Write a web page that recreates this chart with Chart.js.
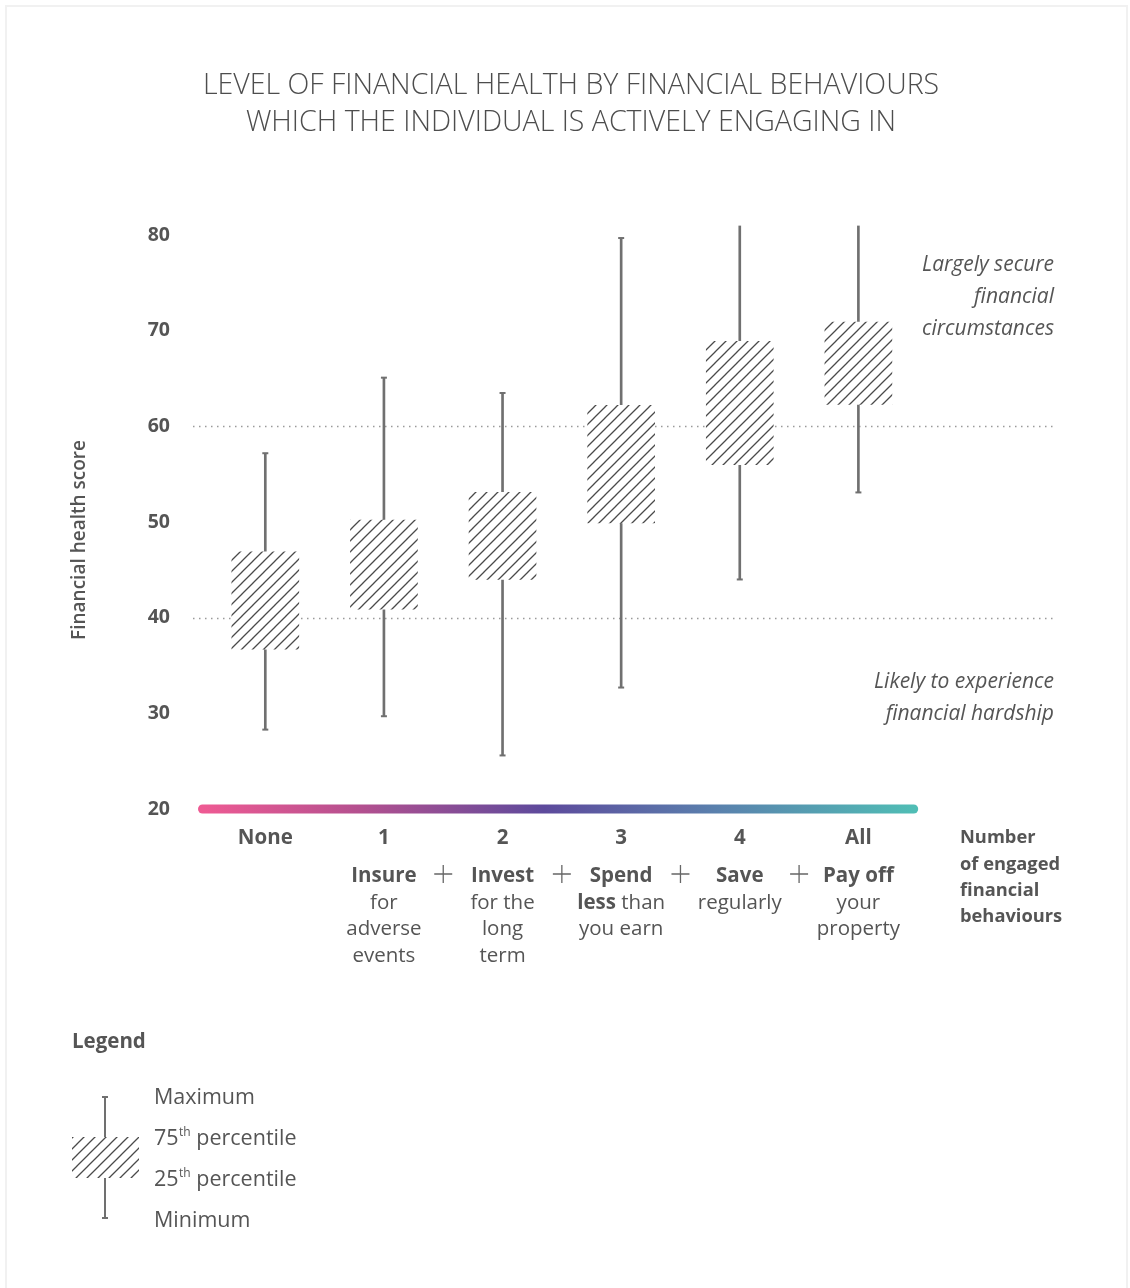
<!DOCTYPE html>
<html><head><meta charset="utf-8">
<script src="https://cdn.jsdelivr.net/npm/chart.js@4.4.1/dist/chart.umd.min.js"></script>
<style>
html,body{margin:0;padding:0;background:#fff;}
#wrap{position:relative;width:1130px;height:1288px;overflow:hidden;}
#card{position:absolute;left:5px;top:5px;width:1123px;height:1300px;border:2px solid #f1f1f1;box-sizing:border-box;}
canvas{position:absolute;left:0;top:0;}
</style></head><body>
<div id="wrap"><div id="card"></div><canvas id="c" width="1130" height="1288"></canvas></div>
<script>
// ---- data ----
const categories = ['None', '1', '2', '3', '4', 'All'];
const minimum = [28.3, 29.7, 25.6, 32.7, 44.0, 53.1];
const q1      = [36.7, 40.9, 44.0, 49.9, 56.0, 62.3];
const q3      = [46.9, 50.2, 53.1, 62.2, 68.9, 70.9];
const maximum = [57.2, 65.1, 63.5, 79.7, 81.0, 81.0];
const yTicks = [20, 30, 40, 50, 60, 70, 80];
const thresholds = [40, 60];
const titleLines = ['LEVEL OF FINANCIAL HEALTH BY FINANCIAL BEHAVIOURS', 'WHICH THE INDIVIDUAL IS ACTIVELY ENGAGING IN'];
const yTitle = 'Financial health score';
// behaviour labels: lines of [text, bold]
const behaviours = [
  null,
  [[['Insure', 1]], [['for', 0]], [['adverse', 0]], [['events', 0]]],
  [[['Invest', 1]], [['for the', 0]], [['long', 0]], [['term', 0]]],
  [[['Spend', 1]], [['less', 1], [' than', 0]], [['you earn', 0]]],
  [[['Save', 1]], [['regularly', 0]]],
  [[['Pay off', 1]], [['your', 0]], [['property', 0]]]
];
const xAxisNote = ['Number', 'of engaged', 'financial', 'behaviours'];
const upperNote = ['Largely secure', 'financial', 'circumstances'];
const lowerNote = ['Likely to experience', 'financial hardship'];
const legendTitle = 'Legend';
const legendItems = [['Maximum', ''], ['75', 'th', ' percentile'], ['25', 'th', ' percentile'], ['Minimum', '']];

const FONT = '"Open Sans", "Noto Sans", sans-serif';
const TXT = '#555555';

const canvas = document.getElementById('c');
const ctx0 = canvas.getContext('2d');
function makeHatch() {
  const s = 11;
  const t = document.createElement('canvas');
  t.width = s; t.height = s;
  const g = t.getContext('2d');
  g.fillStyle = '#ffffff'; g.fillRect(0, 0, s, s);
  g.strokeStyle = '#4a4a4a'; g.lineWidth = 1.3;
  g.beginPath();
  g.moveTo(-2, s + 2); g.lineTo(s + 2, -2);
  g.moveTo(-2, 2); g.lineTo(2, -2);
  g.moveTo(s - 2, s + 2); g.lineTo(s + 2, s - 2);
  g.stroke();
  return ctx0.createPattern(t, 'repeat');
}
const hatch = makeHatch();

function drawCap(ctx, x, y, w) {
  ctx.beginPath(); ctx.moveTo(x - w, y); ctx.lineTo(x + w, y); ctx.stroke();
}

const extras = {
  id: 'extras',
  beforeDatasetsDraw(chart) {
    const {ctx, chartArea, scales} = chart;
    const y = scales.y;
    ctx.save();
    ctx.strokeStyle = '#9a9a9a';
    ctx.lineWidth = 1.3;
    ctx.setLineDash([1.5, 4.5]);
    thresholds.forEach(v => {
      const py = Math.round(y.getPixelForValue(v)) + 0.5;
      ctx.beginPath(); ctx.moveTo(chartArea.left - 13, py); ctx.lineTo(1056, py); ctx.stroke();
    });
    ctx.restore();
  },
  afterDatasetsDraw(chart) {
    const {ctx, chartArea, scales} = chart;
    const x = scales.x, y = scales.y;
    ctx.save();
    // whisker caps
    ctx.strokeStyle = '#707070'; ctx.lineWidth = 2;
    categories.forEach((c, i) => {
      const px = x.getPixelForValue(i);
      if (maximum[i] < y.max) drawCap(ctx, px, y.getPixelForValue(maximum[i]), 3);
      if (minimum[i] > y.min) drawCap(ctx, px, y.getPixelForValue(minimum[i]), 3);
    });
    // gradient baseline
    const by = y.getPixelForValue(y.min);
    const x0 = chartArea.left - 3.5, x1 = chartArea.right - 4;
    const grad = ctx.createLinearGradient(x0, 0, x1, 0);
    grad.addColorStop(0, '#ee5a93');
    grad.addColorStop(0.22, '#b4508f');
    grad.addColorStop(0.48, '#5d4a9c');
    grad.addColorStop(0.72, '#5a80ad');
    grad.addColorStop(1, '#50bdb5');
    ctx.strokeStyle = grad; ctx.lineWidth = 9; ctx.lineCap = 'round';
    ctx.beginPath(); ctx.moveTo(x0, by); ctx.lineTo(x1, by); ctx.stroke();
    ctx.restore();
  },
  afterDraw(chart) {
    const {ctx, chartArea, scales} = chart;
    const x = scales.x, y = scales.y;
    ctx.save();
    ctx.fillStyle = TXT;
    ctx.textBaseline = 'middle';
    // y title
    ctx.save();
    ctx.translate(80, 540);
    ctx.rotate(-Math.PI / 2);
    ctx.textAlign = 'center';
    ctx.font = '600 19px ' + FONT;
    ctx.fillText(yTitle, 0, 0);
    ctx.restore();
    // behaviour labels
    const baseY = 876, lh = 26.7;
    const bf = '20.5px ';
    behaviours.forEach((lines, i) => {
      if (!lines) return;
      const px = x.getPixelForValue(i);
      lines.forEach((segs, k) => {
        const widths = segs.map(s => { ctx.font = (s[1] ? '700 ' : '400 ') + bf + FONT; return ctx.measureText(s[0]).width; });
        const total = widths.reduce((a, b) => a + b, 0);
        let cx = px - total / 2;
        ctx.textAlign = 'left';
        segs.forEach((s, j) => {
          ctx.font = (s[1] ? '700 ' : '400 ') + bf + FONT;
          ctx.fillText(s[0], cx, baseY + k * lh);
          cx += widths[j];
        });
      });
    });
    // plus signs
    ctx.strokeStyle = '#666'; ctx.lineWidth = 1.3;
    for (let i = 1; i < categories.length - 1; i++) {
      const mx = (x.getPixelForValue(i) + x.getPixelForValue(i + 1)) / 2;
      ctx.beginPath();
      ctx.moveTo(mx - 9, 874); ctx.lineTo(mx + 9, 874);
      ctx.moveTo(mx, 865); ctx.lineTo(mx, 883);
      ctx.stroke();
    }
    // x axis note
    ctx.textAlign = 'left';
    ctx.font = '700 18.3px ' + FONT;
    xAxisNote.forEach((t, k) => ctx.fillText(t, 960, 838 + k * 26.3));
    // zone notes
    ctx.textAlign = 'right';
    ctx.font = 'italic 400 21px ' + FONT;
    upperNote.forEach((t, k) => ctx.fillText(t, 1054, y.getPixelForValue(76.9) + k * 32));
    lowerNote.forEach((t, k) => ctx.fillText(t, 1054, y.getPixelForValue(33.3) + k * 32));
    // legend
    ctx.textAlign = 'left';
    ctx.font = '700 20.5px ' + FONT;
    ctx.fillText(legendTitle, 72, 1042);
    const lx = 105;
    ctx.strokeStyle = '#707070'; ctx.lineWidth = 2;
    ctx.beginPath(); ctx.moveTo(lx, 1097); ctx.lineTo(lx, 1218); ctx.stroke();
    drawCap(ctx, lx, 1097, 3); drawCap(ctx, lx, 1218, 3);
    ctx.fillStyle = hatch;
    ctx.fillRect(72, 1137, 67, 41);
    ctx.fillStyle = TXT;
    const ly = [1098, 1139, 1180, 1221];
    legendItems.forEach((it, k) => {
      let cx = 154;
      ctx.font = '400 21.5px ' + FONT;
      ctx.fillText(it[0], cx, ly[k]);
      cx += ctx.measureText(it[0]).width;
      if (it[1]) {
        ctx.font = '400 12px ' + FONT;
        ctx.fillText(it[1], cx + 0.5, ly[k] - 6);
        cx += ctx.measureText(it[1]).width + 0.5;
        ctx.font = '400 21.5px ' + FONT;
        ctx.fillText(it[2], cx, ly[k]);
      }
    });
    ctx.restore();
  }
};

new Chart(canvas, {
  type: 'bar',
  data: {
    labels: categories,
    datasets: [
      {
        label: 'Interquartile range',
        data: categories.map((c, i) => [q1[i], q3[i]]),
        backgroundColor: hatch,
        borderWidth: 0,
        barThickness: 67,
        grouped: false,
        order: 0
      },
      {
        label: 'Min to max',
        data: categories.map((c, i) => [minimum[i], maximum[i]]),
        backgroundColor: '#707070',
        borderWidth: 0,
        barThickness: 2,
        grouped: false,
        order: 1
      }
    ]
  },
  options: {
    responsive: false,
    animation: false,
    events: [],
    layout: { padding: { left: 12, right: 0, top: 0, bottom: 419 } },
    plugins: {
      legend: { display: false },
      tooltip: { enabled: false },
      title: {
        display: true,
        text: titleLines,
        color: '#4d4d4d',
        font: { family: FONT, size: 28.5, weight: '300', lineHeight: 1.3 },
        padding: { top: 67.5, bottom: 84 }
      }
    },
    scales: {
      x: {
        grid: { display: false, drawTicks: false },
        border: { display: false },
        ticks: { color: TXT, font: { family: FONT, size: 20.5, weight: '700' }, padding: 17 },
        afterFit(s) { s.height = 60; }
      },
      y: {
        min: 20, max: 81,
        grid: { display: false, drawTicks: false },
        border: { display: false },
        ticks: { color: TXT, font: { family: FONT, size: 19.5, weight: '700' }, padding: 36 },
        afterBuildTicks(s) { s.ticks = yTicks.map(v => ({ value: v })); },
        afterFit(s) { s.width = 194; }
      },
      y2: {
        position: 'right',
        grid: { display: false, drawTicks: false },
        border: { display: false },
        ticks: { display: false },
        afterFit(s) { s.width = 212.3; }
      }
    }
  },
  plugins: [extras]
});
</script>
</body></html>
